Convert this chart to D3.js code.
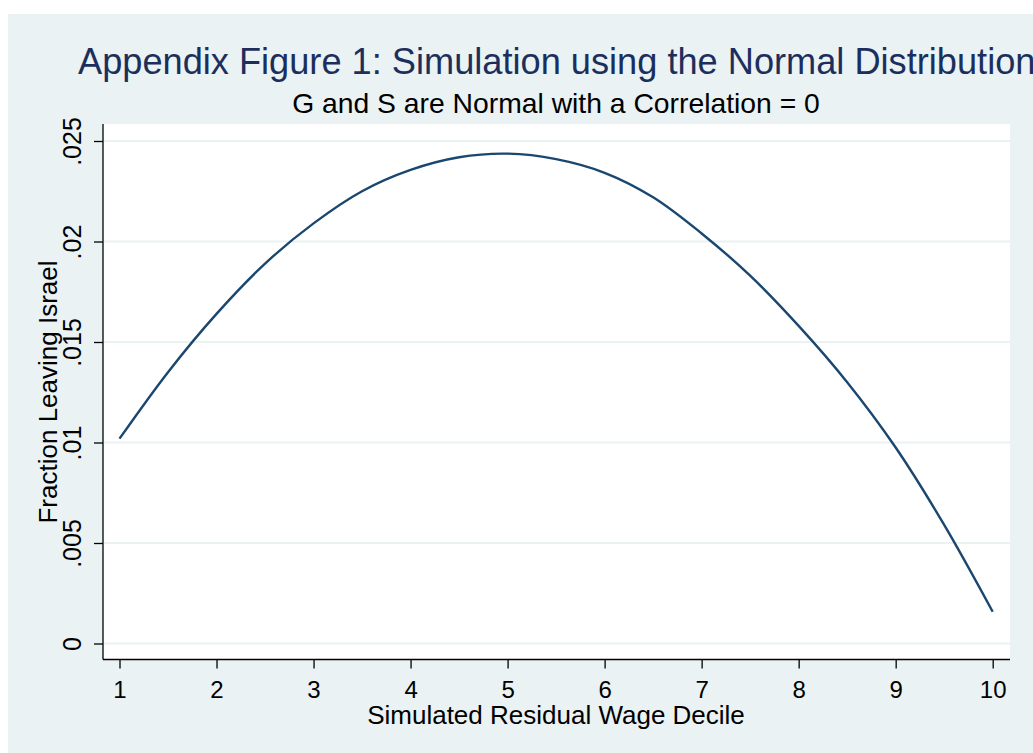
<!DOCTYPE html>
<html>
<head>
<meta charset="utf-8">
<script src="https://cdn.jsdelivr.net/npm/d3@7"></script>
<style>
  body { margin: 0; background: #fff; }
  svg { display: block; font-family: "Liberation Sans", Arial, sans-serif; }
</style>
</head>
<body>
<svg id="chart" width="1033" height="753"></svg>
<script>
// simulated residual wage decile (x) and fraction leaving (y)
var deciles = [1, 1.5, 2, 2.5, 3, 3.5, 4, 4.5, 5, 5.5, 6, 6.5, 7, 7.5, 8, 8.5, 9, 9.5, 10];
var fraction = [0.01019, 0.0135, 0.0164, 0.0189, 0.0209, 0.0225, 0.02356, 0.02419, 0.02437,
                0.0241, 0.02342, 0.0222, 0.0204, 0.0183, 0.0158, 0.0130, 0.00975, 0.0059, 0.00158];
var xTicks = [1, 2, 3, 4, 5, 6, 7, 8, 9, 10];
var yTicks = [0, 0.005, 0.01, 0.015, 0.02, 0.025];
var yTickLabels = ["0", ".005", ".01", ".015", ".02", ".025"];

var svg = d3.select("#chart");

var bg = "#eaf2f3";
var plot = { left: 103, right: 1010, top: 124, bottom: 659.5 };

// outer graph region
svg.append("rect")
    .attr("x", 8).attr("y", 14)
    .attr("width", 1033 - 8).attr("height", 753 - 14)
    .attr("fill", bg);

svg.append("rect")
    .attr("x", plot.left).attr("y", plot.top)
    .attr("width", plot.right - plot.left).attr("height", plot.bottom - plot.top)
    .attr("fill", "#fff");

var x = d3.scaleLinear().domain([1, 10]).range([119.5, 992.7]);
var y = d3.scaleLinear().domain([0, 0.025]).range([643.5, 141]);

// grid lines
svg.selectAll(".grid")
    .data(yTicks)
    .enter()
    .append("line")
    .attr("class", "grid")
    .attr("x1", plot.left + 1).attr("x2", plot.right)
    .attr("y1", function (d) { return y(d); })
    .attr("y2", function (d) { return y(d); })
    .attr("stroke", bg)
    .attr("stroke-width", 2.2);

// the curve
var line = d3.line()
    .x(function (d, i) { return x(deciles[i]); })
    .y(function (d) { return y(d); })
    .curve(d3.curveCatmullRom);

svg.append("path")
    .datum(fraction)
    .attr("d", line)
    .attr("fill", "none")
    .attr("stroke", "#1a476f")
    .attr("stroke-width", 2.4);

// axes
var yAxis = d3.axisLeft(y)
    .tickValues(yTicks)
    .tickSize(9)
    .tickPadding(0)
    .tickFormat(function (d, i) { return yTickLabels[i]; });

var gy = svg.append("g")
    .attr("transform", "translate(" + plot.left + ",0)")
    .call(yAxis);
gy.select(".domain").attr("d", "M0," + plot.top + "V" + plot.bottom).attr("stroke", "#000").attr("stroke-width", 1.3);
gy.selectAll(".tick line").attr("stroke", "#000").attr("stroke-width", 1.3);
gy.selectAll(".tick text")
    .attr("x", null).attr("dy", null)
    .attr("transform", "translate(-22,0) rotate(-90)")
    .style("text-anchor", "middle")
    .style("font-size", "25px")
    .attr("fill", "#000");

var xAxis = d3.axisBottom(x)
    .tickValues(xTicks)
    .tickSize(9)
    .tickPadding(0)
    .tickFormat(d3.format("d"));

var gx = svg.append("g")
    .attr("transform", "translate(0," + plot.bottom + ")")
    .call(xAxis);
gx.select(".domain").attr("d", "M" + plot.left + ",0H" + plot.right).attr("stroke", "#000").attr("stroke-width", 1.3);
gx.selectAll(".tick line").attr("stroke", "#000").attr("stroke-width", 1.3);
gx.selectAll(".tick text")
    .attr("y", 38.5).attr("dy", null)
    .style("font-size", "24px")
    .attr("fill", "#000");

// axis titles
svg.append("text")
    .text("Simulated Residual Wage Decile")
    .attr("x", 556).attr("y", 724)
    .style("text-anchor", "middle")
    .style("font-size", "26px")
    .attr("fill", "#000");

svg.append("text")
    .text("Fraction Leaving Israel")
    .attr("transform", "translate(57,392) rotate(-90)")
    .style("text-anchor", "middle")
    .style("font-size", "26px")
    .attr("fill", "#000");

// titles
svg.append("text")
    .text("Appendix Figure 1: Simulation using the Normal Distribution")
    .attr("x", 78).attr("y", 74)
    .style("font-size", "36.2px")
    .attr("fill", "#1c2f5c");

svg.append("text")
    .text("G and S are Normal with a Correlation = 0")
    .attr("x", 556).attr("y", 113)
    .style("text-anchor", "middle")
    .style("font-size", "28.3px")
    .attr("fill", "#000");
</script>
</body>
</html>
